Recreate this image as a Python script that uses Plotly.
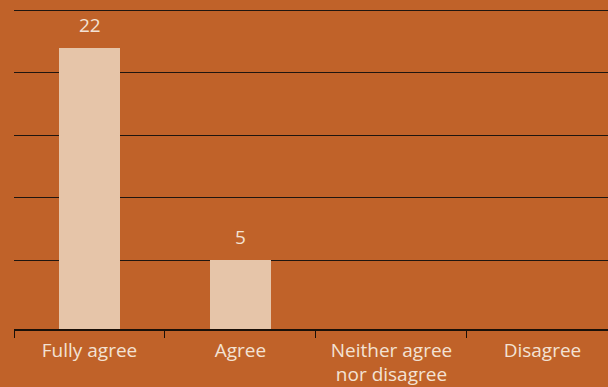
import plotly.graph_objects as go

categories = ["Fully agree", "Agree", "Neither agree<br>nor disagree", "Disagree"]
values = [22, 5, 0, 0]
y_ticks = [5, 10, 15, 20, 25]
Y_MIN = -0.5
Y_MAX = 25.18

BG = "#C06229"
BAR = "#E6C5A9"
TXT = "#F3E2D4"
FONT = "Open Sans"

fig = go.Figure()
fig.add_trace(go.Bar(
    x=categories, y=[(v - Y_MIN) if v else None for v in values], base=Y_MIN,
    marker=dict(color=BAR, line=dict(width=0)),
    width=0.404, hoverinfo="skip",
))
for c, v in zip(categories, values):
    if v:
        fig.add_annotation(x=c, y=v, text=str(v), showarrow=False,
                           yanchor="bottom", yshift=8,
                           font=dict(family=FONT, size=19, color=TXT))

fig.update_layout(
    width=608, height=387,
    margin=dict(l=14, r=0, t=8, b=55),
    paper_bgcolor=BG, plot_bgcolor=BG,
    showlegend=False,
    bargap=0,
    xaxis=dict(
        range=[-0.5, 3.434], showgrid=False,
        showline=True, linecolor="#1a1008", linewidth=1.5,
        ticks="outside", tickson="boundaries", ticklen=7, tickcolor="#1a1008", tickwidth=1.2,
        tickfont=dict(family=FONT, size=19, color=TXT),
        ticklabelstandoff=3,
        fixedrange=True,
    ),
    yaxis=dict(
        range=[Y_MIN, Y_MAX], tickvals=y_ticks, showticklabels=False,
        showgrid=True, gridcolor="#1f150f", gridwidth=1.3,
        zeroline=False, showline=False, fixedrange=True,
    ),
)

fig.write_html("out.html", config={"displayModeBar": False})
